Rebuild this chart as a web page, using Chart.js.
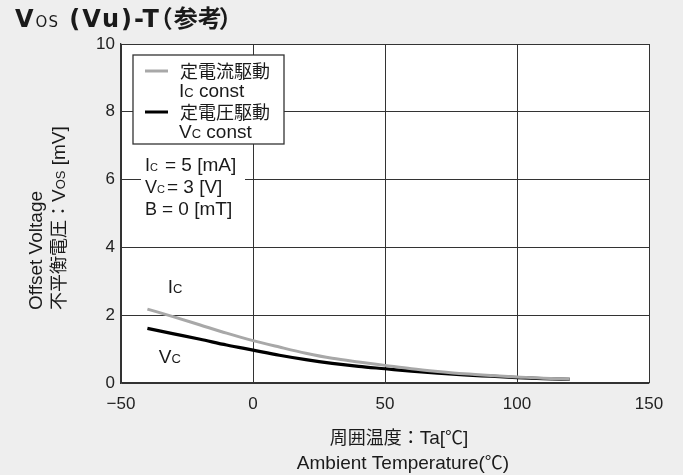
<!DOCTYPE html>
<html>
<head>
<meta charset="utf-8">
<script src="https://cdn.jsdelivr.net/npm/chart.js@4.4.0/dist/chart.umd.min.js"></script>
<style>
  html, body { margin: 0; padding: 0; background: #eeeeee; }
  #wrap { width: 683px; height: 475px; }
</style>
</head>
<body>
<div id="wrap"><canvas id="vosChart" width="683" height="475"></canvas></div>
<script>
const FONT = '"Liberation Sans", "Noto Sans CJK JP", sans-serif';
const TITLE_FONT = '"DejaVu Sans", "Noto Sans CJK JP", sans-serif';

// data
const temps = [-40, -30, -20, -10, 0, 10, 20, 30, 40, 50, 60, 70, 80, 90, 100, 110, 120];
const vosIc = [2.18, 1.95, 1.71, 1.47, 1.25, 1.06, 0.88, 0.73, 0.62, 0.52, 0.42, 0.34, 0.27, 0.22, 0.18, 0.14, 0.12];
const vosVc = [1.61, 1.45, 1.29, 1.12, 0.97, 0.82, 0.69, 0.58, 0.49, 0.42, 0.35, 0.29, 0.24, 0.20, 0.16, 0.13, 0.11];
const xTicks = [-50, 0, 50, 100, 150];
const yTicks = [0, 2, 4, 6, 8, 10];
const legendNames = [['定電流駆動', 'I', 'C', ' const'], ['定電圧駆動', 'V', 'C', ' const']];
const conditions = [['I', 'C', '= 5 [mA]'], ['V', 'C', '= 3 [V]'], ['B', '', '= 0 [mT]']];

function toPoints(xs, ys) {
  return xs.map((x, i) => ({ x: x, y: ys[i] }));
}

function fontOf(p) {
  return (p.bold ? 'bold ' : '') + p.size + 'px ' + (p.family || FONT);
}

function partWidth(ctx, p) {
  ctx.font = fontOf(p);
  ctx.letterSpacing = (p.ls || 0) + 'px';
  return p.adv !== undefined ? p.adv : ctx.measureText(p.t).width;
}

// draw a run of text pieces with different sizes, returns end x
function drawParts(ctx, parts, x, y, align) {
  let total = 0;
  parts.forEach(p => { total += partWidth(ctx, p); });
  let cx = x;
  if (align === 'center') cx = x - total / 2;
  if (align === 'right') cx = x - total;
  ctx.textAlign = 'left';
  ctx.textBaseline = 'alphabetic';
  parts.forEach(p => {
    const w = partWidth(ctx, p);
    ctx.fillText(p.t, cx + (p.dx || 0), y);
    cx += w;
  });
  ctx.letterSpacing = '0px';
  return cx;
}

const decor = {
  id: 'decor',
  beforeDraw(chart) {
    const ctx = chart.ctx;
    const a = chart.chartArea;
    ctx.save();
    ctx.fillStyle = '#eeeeee';
    ctx.fillRect(0, 0, chart.width, chart.height);
    ctx.fillStyle = '#ffffff';
    ctx.fillRect(a.left, a.top, a.right - a.left, a.bottom - a.top);
    ctx.restore();
  },
  afterDatasetsDraw(chart) {
    const ctx = chart.ctx;
    const a = chart.chartArea;
    const xs = chart.scales.x, ys = chart.scales.y;
    ctx.save();
    ctx.fillStyle = '#1a1a1a';

    // title
    drawParts(ctx, [
      { t: 'V', size: 24, bold: true, family: TITLE_FONT, ls: 2 },
      { t: 'OS', size: 15, family: TITLE_FONT, ls: 1 },
      { t: ' (Vu)-T', size: 24, bold: true, family: TITLE_FONT, ls: 2 },
      { t: '（', size: 24, bold: true, family: TITLE_FONT, dx: -12, adv: 13 },
      { t: '参考', size: 24, bold: true, family: TITLE_FONT },
      { t: '）', size: 24, bold: true, family: TITLE_FONT, dx: -3, adv: 10 }
    ], 15, 27, 'left');

    // legend box
    const lx = a.left + 12, ly = a.top + 11, lw = 151, lh = 89;
    ctx.fillStyle = '#ffffff';
    ctx.fillRect(lx, ly, lw, lh);
    ctx.strokeStyle = '#333333';
    ctx.lineWidth = 1.3;
    ctx.strokeRect(lx, ly, lw, lh);
    chart.data.datasets.forEach((ds, i) => {
      const y0 = ly + 16 + i * 41;
      ctx.strokeStyle = ds.borderColor;
      ctx.lineWidth = 3;
      ctx.beginPath();
      ctx.moveTo(lx + 12, y0);
      ctx.lineTo(lx + 35, y0);
      ctx.stroke();
      ctx.fillStyle = '#1a1a1a';
      const n = legendNames[i];
      drawParts(ctx, [{ t: n[0], size: 18 }], lx + 47, y0 + 7, 'left');
      drawParts(ctx, [{ t: n[1], size: 19 }, { t: n[2], size: 13 }, { t: n[3], size: 19 }], lx + 46, y0 + 26, 'left');
    });

    // conditions
    ctx.fillStyle = '#ffffff';
    ctx.fillRect(a.left + 20, a.top + 104, 104, 74);
    ctx.fillStyle = '#1a1a1a';
    conditions.forEach((c, i) => {
      const by = a.top + 127 + i * 22;
      const end = drawParts(ctx, [{ t: c[0], size: 18 }, { t: c[1], size: 11 }], a.left + 24, by, 'left');
      const eqX = Math.max(a.left + (i === 0 ? 44 : 41), end + 2);
      drawParts(ctx, [{ t: c[2], size: 19 }], eqX, by, 'left');
    });

    // curve labels
    drawParts(ctx, [{ t: 'I', size: 19 }, { t: 'C', size: 13 }], xs.getPixelForValue(-29.5), ys.getPixelForValue(2.86) + 7, 'center');
    drawParts(ctx, [{ t: 'V', size: 19 }, { t: 'C', size: 13 }], xs.getPixelForValue(-31.5), ys.getPixelForValue(0.8) + 7, 'center');

    // x axis title
    drawParts(ctx, [{ t: '周囲温度：', size: 18 }, { t: 'Ta[', size: 19 }, { t: '℃', size: 18 }, { t: ']', size: 19 }], 399, 444, 'center');
    drawParts(ctx, [{ t: 'Ambient Temperature(', size: 19 }, { t: '℃', size: 18 }, { t: ')', size: 19 }], 403, 469, 'center');

    // y axis title
    ctx.translate(0, 310);
    ctx.rotate(-Math.PI / 2);
    drawParts(ctx, [{ t: 'Offset Voltage', size: 19 }], 0, 42, 'left');
    drawParts(ctx, [{ t: '不平衡電圧：', size: 18 }, { t: 'V', size: 19 }, { t: 'OS', size: 13 }, { t: ' [mV]', size: 19 }], 0, 65, 'left');
    ctx.restore();
  }
};

const ctx = document.getElementById('vosChart').getContext('2d');
new Chart(ctx, {
  type: 'line',
  data: {
    datasets: [{
      label: 'Ic const',
      data: toPoints(temps, vosIc),
      borderColor: '#a8a8a8',
      borderWidth: 3,
      pointRadius: 0,
      cubicInterpolationMode: 'monotone',
      fill: false
    }, {
      label: 'Vc const',
      data: toPoints(temps, vosVc),
      borderColor: '#000000',
      borderWidth: 3.2,
      pointRadius: 0,
      cubicInterpolationMode: 'monotone',
      fill: false
    }]
  },
  options: {
    responsive: false,
    animation: false,
    devicePixelRatio: 1,
    layout: { padding: { left: 0, top: 44, right: 34, bottom: 0 } },
    plugins: { legend: { display: false }, tooltip: { enabled: false } },
    scales: {
      x: {
        type: 'linear',
        min: -50,
        max: 150,
        afterBuildTicks: s => { s.ticks = xTicks.map(v => ({ value: v })); },
        afterFit: s => { s.height = 92; },
        ticks: {
          color: '#222',
          font: { family: FONT, size: 17 },
          padding: 11,
          callback: v => String(v).replace('-', '\u2212')
        },
        grid: { color: '#333', lineWidth: 1, drawTicks: false },
        border: { color: '#333', width: 1.3 }
      },
      y: {
        min: 0,
        max: 10,
        afterBuildTicks: s => { s.ticks = yTicks.map(v => ({ value: v })); },
        afterFit: s => { s.width = 121; },
        ticks: { color: '#222', font: { family: FONT, size: 17 }, padding: 6 },
        grid: { color: '#333', lineWidth: 1, drawTicks: false },
        border: { color: '#333', width: 1.3 }
      }
    }
  },
  plugins: [decor]
});
</script>
</body>
</html>
